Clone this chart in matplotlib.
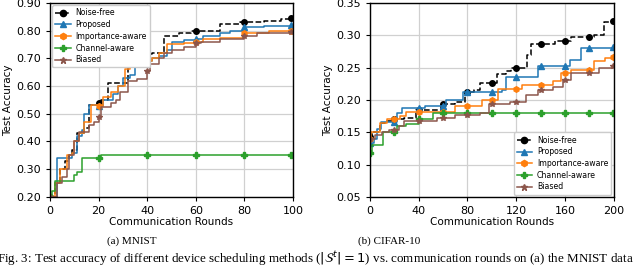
import numpy as np
import matplotlib as mpl
mpl.use('Agg')
import matplotlib.pyplot as plt

# MNIST: step change points (round, accuracy)
mn_noise_x = [0, 2, 4, 6, 8, 9, 11, 14, 16, 20, 21, 24, 32, 40, 42, 47, 53, 58, 62, 70, 78, 88, 95, 99]
mn_noise_y = [0.20, 0.25, 0.30, 0.33, 0.35, 0.37, 0.43, 0.45, 0.53, 0.538, 0.55, 0.61, 0.69, 0.714, 0.72, 0.78, 0.79, 0.797, 0.80, 0.825, 0.832, 0.836, 0.842, 0.846]
mn_prop_x = [0, 3, 8, 9, 11, 13, 14, 16, 20, 22, 26, 28, 30, 33, 35, 40, 42, 45, 48, 50, 55, 60, 63, 70, 74, 80, 88, 99]
mn_prop_y = [0.20, 0.34, 0.34, 0.36, 0.42, 0.44, 0.50, 0.53, 0.527, 0.55, 0.57, 0.60, 0.63, 0.64, 0.69, 0.692, 0.70, 0.71, 0.73, 0.76, 0.765, 0.771, 0.78, 0.79, 0.80, 0.812, 0.815, 0.822]
mn_imp_x = [0, 2, 4, 7, 9, 10, 12, 14, 17, 20, 22, 25, 28, 31, 33, 40, 42, 45, 48, 55, 60, 63, 70, 80, 90, 99]
mn_imp_y = [0.20, 0.25, 0.30, 0.35, 0.36, 0.40, 0.43, 0.47, 0.53, 0.527, 0.56, 0.58, 0.60, 0.66, 0.69, 0.69, 0.70, 0.72, 0.75, 0.755, 0.76, 0.77, 0.775, 0.79, 0.797, 0.80]
mn_chan_x = [0, 1, 2, 10, 11, 13, 21, 99]
mn_chan_y = [0.20, 0.22, 0.258, 0.28, 0.29, 0.34, 0.352, 0.352]
mn_bias_x = [0, 3, 5, 7, 8, 10, 12, 16, 18, 20, 21, 25, 27, 29, 32, 36, 40, 41, 45, 47, 50, 55, 60, 62, 70, 80, 85, 99]
mn_bias_y = [0.20, 0.25, 0.27, 0.30, 0.35, 0.40, 0.435, 0.46, 0.47, 0.489, 0.525, 0.54, 0.55, 0.58, 0.62, 0.625, 0.654, 0.68, 0.70, 0.72, 0.73, 0.74, 0.755, 0.76, 0.77, 0.78, 0.79, 0.795]

# CIFAR-10
cf_noise_x = [0, 2, 8, 12, 20, 28, 38, 56, 58, 70, 78, 85, 90, 104, 112, 116, 129, 132, 152, 165, 184, 192, 199]
cf_noise_y = [0.142, 0.15, 0.165, 0.168, 0.17, 0.172, 0.185, 0.185, 0.194, 0.197, 0.212, 0.215, 0.226, 0.24, 0.245, 0.25, 0.27, 0.286, 0.291, 0.297, 0.30, 0.32, 0.322]
cf_prop_x = [0, 3, 6, 9, 20, 22, 26, 45, 62, 76, 108, 112, 136, 138, 164, 173, 199]
cf_prop_y = [0.133, 0.14, 0.155, 0.166, 0.166, 0.18, 0.188, 0.191, 0.20, 0.212, 0.215, 0.235, 0.235, 0.253, 0.262, 0.281, 0.282]
cf_imp_x = [0, 1, 8, 14, 25, 30, 60, 70, 92, 105, 125, 150, 157, 165, 184, 193, 199]
cf_imp_y = [0.14, 0.15, 0.165, 0.171, 0.175, 0.181, 0.182, 0.19, 0.20, 0.217, 0.223, 0.23, 0.242, 0.247, 0.26, 0.265, 0.266]
cf_chan_x = [0, 2, 11, 22, 30, 40, 52, 199]
cf_chan_y = [0.118, 0.13, 0.15, 0.16, 0.163, 0.171, 0.18, 0.18]
cf_bias_x = [0, 4, 10, 16, 24, 28, 55, 70, 90, 98, 115, 128, 138, 150, 158, 165, 188, 199]
cf_bias_y = [0.139, 0.145, 0.15, 0.154, 0.16, 0.167, 0.172, 0.176, 0.18, 0.194, 0.196, 0.207, 0.215, 0.22, 0.231, 0.242, 0.25, 0.253]

labels = ['Noise-free', 'Proposed', 'Importance-aware', 'Channel-aware', 'Biased']
colors = ['black', 'tab:blue', 'tab:orange', 'tab:green', 'tab:brown']
markers = ['o', '^', 'h', 'P', '*']
styles = ['--', '-', '-', '-', '-']


def desenhar(ax, series, marcas, xmax, ymin, ymax, yticks, xticks, loc):
    for (xs, ys), lab, cor, mk, ls in zip(series, labels, colors, markers, styles):
        xs = np.array(xs)
        ys = np.array(ys)
        ax.plot(xs, ys, drawstyle='steps-post', color=cor, ls=ls, lw=1.1)
        mx = np.array([min(m, xs[-1]) for m in marcas])
        my = ys[np.searchsorted(xs, mx, side='right') - 1]
        ax.plot(mx, my, ls='none', marker=mk, color=cor, ms=4)
        ax.plot([], [], color=cor, ls=ls, marker=mk, ms=4.5, lw=1.1, label=lab)
    ax.set_xlim(0, xmax)
    ax.set_ylim(ymin, ymax)
    ax.set_xticks(xticks)
    ax.set_yticks(yticks)
    ax.yaxis.set_major_formatter(mpl.ticker.FormatStrFormatter('%.2f'))
    ax.grid(True, color='#d0d0d0', lw=0.9)
    ax.set_axisbelow(True)
    ax.tick_params(labelsize=8, length=3)
    ax.set_xlabel('Communication Rounds', fontsize=7.5, labelpad=1)
    ax.set_ylabel('Test Accuracy', fontsize=7.5, labelpad=2)
    for s in ax.spines.values():
        s.set_linewidth(1.0)
    ax.legend(loc=loc, fontsize=5.6, handlelength=2.0, labelspacing=0.35,
              borderpad=0.4, handletextpad=0.6, framealpha=1, borderaxespad=0.3)


fig = plt.figure(figsize=(6.4, 2.65), dpi=100)
ax1 = fig.add_axes([0.078, 0.257, 0.380, 0.732])
ax2 = fig.add_axes([0.578, 0.257, 0.381, 0.732])

desenhar(ax1,
         [(mn_noise_x, mn_noise_y), (mn_prop_x, mn_prop_y), (mn_imp_x, mn_imp_y),
          (mn_chan_x, mn_chan_y), (mn_bias_x, mn_bias_y)],
         [0, 20, 40, 60, 80, 100], 100, 0.20, 0.90,
         np.arange(0.20, 0.91, 0.10), [0, 20, 40, 60, 80, 100], 'upper left')
desenhar(ax2,
         [(cf_noise_x, cf_noise_y), (cf_prop_x, cf_prop_y), (cf_imp_x, cf_imp_y),
          (cf_chan_x, cf_chan_y), (cf_bias_x, cf_bias_y)],
         [0, 20, 40, 60, 80, 100, 120, 140, 160, 180, 200], 200, 0.05, 0.35,
         np.arange(0.05, 0.36, 0.05), [0, 40, 80, 120, 160, 200], 'lower right')

fig.text(0.206, 0.09, '(a) MNIST', family='Liberation Serif', fontsize=8, ha='center', va='center')
fig.text(0.608, 0.09, '(b) CIFAR-10', family='Liberation Serif', fontsize=8, ha='center', va='center')
fig.text(-0.005, 0.022, 'Fig. 3: Test accuracy of different device scheduling methods ($|\\mathcal{S}^t|=1$) vs. communication rounds on (a) the MNIST data',
         family='Liberation Serif', fontsize=9.4, ha='left', va='center')

plt.savefig('out.png', dpi=100)
